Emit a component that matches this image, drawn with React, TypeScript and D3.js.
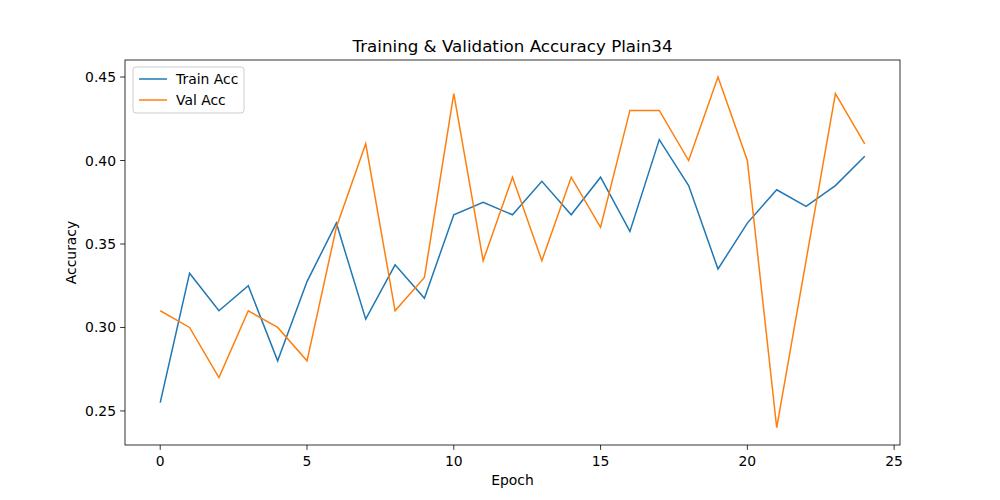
import { useEffect, useRef } from 'react';
import * as d3 from 'd3';

const epochs = d3.range(25);
const trainAcc = [0.255, 0.3325, 0.31, 0.325, 0.28, 0.3275, 0.3625, 0.305, 0.3375, 0.3175, 0.3675, 0.375, 0.3675, 0.3875, 0.3675, 0.39, 0.3575, 0.4125, 0.385, 0.335, 0.3625, 0.3825, 0.3725, 0.385, 0.4025];
const valAcc = [0.31, 0.30, 0.27, 0.31, 0.30, 0.28, 0.36, 0.41, 0.31, 0.33, 0.44, 0.34, 0.39, 0.34, 0.39, 0.36, 0.43, 0.43, 0.40, 0.45, 0.40, 0.24, 0.34, 0.44, 0.41];
const xTicks = [0, 5, 10, 15, 20, 25];
const yTicks = [0.25, 0.3, 0.35, 0.4, 0.45];

export default function App() {
  const svgRef = useRef<SVGSVGElement>(null);

  useEffect(() => {
    if (!svgRef.current) return;
    const svg = d3.select(svgRef.current);
    svg.selectAll('*').remove();

    const left = 125, right = 900, top = 60, bottom = 445;
    const font = 'DejaVu Sans, sans-serif';
    const x = d3.scaleLinear().domain([-1.2, 25.2]).range([left, right]);
    const y = d3.scaleLinear().domain([0.2296, 0.4602]).range([bottom, top]);

    svg.append('rect').attr('width', 1000).attr('height', 500).attr('fill', '#fff');

    const series = [
      { name: 'Train Acc', values: trainAcc, color: '#1f77b4' },
      { name: 'Val Acc', values: valAcc, color: '#ff7f0e' },
    ];
    const line = d3.line<number>().x((_, i) => x(epochs[i])).y(d => y(d));
    series.forEach(s => {
      svg.append('path').attr('d', line(s.values)).attr('fill', 'none')
        .attr('stroke', s.color).attr('stroke-width', 1.5);
    });

    svg.append('rect').attr('x', left).attr('y', top).attr('width', right - left).attr('height', bottom - top)
      .attr('fill', 'none').attr('stroke', '#000').attr('stroke-width', 0.8);

    xTicks.forEach(t => {
      svg.append('line').attr('x1', x(t)).attr('x2', x(t)).attr('y1', bottom).attr('y2', bottom + 4.9)
        .attr('stroke', '#000').attr('stroke-width', 0.8);
      svg.append('text').attr('x', x(t)).attr('y', bottom + 21).attr('text-anchor', 'middle')
        .attr('font-size', '13.9px').attr('font-family', font).text(t);
    });
    yTicks.forEach(t => {
      svg.append('line').attr('x1', left - 4.9).attr('x2', left).attr('y1', y(t)).attr('y2', y(t))
        .attr('stroke', '#000').attr('stroke-width', 0.8);
      svg.append('text').attr('x', left - 9).attr('y', y(t)).attr('text-anchor', 'end')
        .attr('dominant-baseline', 'central').attr('font-size', '13.9px').attr('font-family', font)
        .text(t.toFixed(2));
    });

    svg.append('text').attr('x', (left + right) / 2).attr('y', 52).attr('text-anchor', 'middle')
      .attr('font-size', '16.7px').attr('font-family', font).text('Training & Validation Accuracy Plain34');
    svg.append('text').attr('x', (left + right) / 2).attr('y', 485).attr('text-anchor', 'middle')
      .attr('font-size', '13.9px').attr('font-family', font).text('Epoch');
    svg.append('text').attr('transform', `translate(76,${(top + bottom) / 2}) rotate(-90)`)
      .attr('text-anchor', 'middle').attr('font-size', '13.9px').attr('font-family', font).text('Accuracy');

    const lg = svg.append('g').attr('transform', `translate(${left + 8},${top + 7})`);
    lg.append('rect').attr('width', 111).attr('height', 46).attr('rx', 3).attr('fill', '#fff')
      .attr('fill-opacity', 0.8).attr('stroke', '#ccc');
    series.forEach((s, i) => {
      const yy = 12 + i * 21;
      lg.append('line').attr('x1', 6).attr('x2', 34).attr('y1', yy).attr('y2', yy)
        .attr('stroke', s.color).attr('stroke-width', 1.5);
      lg.append('text').attr('x', 43).attr('y', yy).attr('dominant-baseline', 'central')
        .attr('font-size', '13.9px').attr('font-family', font).text(s.name);
    });
  }, []);

  return <svg ref={svgRef} width={1000} height={500} style={{ position: 'absolute', left: 0, top: 0 }} />;
}
